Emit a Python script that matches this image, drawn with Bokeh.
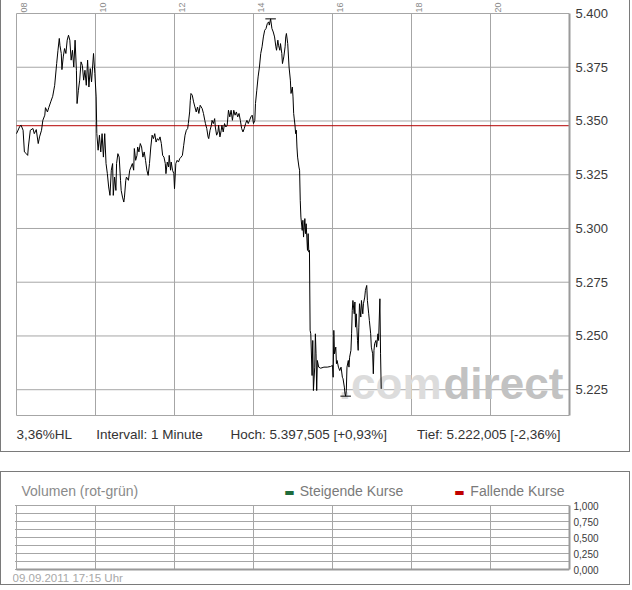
import math
from bokeh.plotting import figure
from bokeh.models import LinearAxis, FixedTicker, Range1d, Spacer
from bokeh.layouts import column
from bokeh.core.properties import value
from bokeh.embed import file_html
from bokeh.resources import INLINE

# ---------------- data (1-minute intraday) ----------------
times_0800 = ["08:00","08:05","08:07","08:10","08:12","08:15","08:17","08:18","08:21","08:25",
              "08:27","08:30","08:33","08:35","08:38","08:40","08:43","08:44","08:47","08:49",
              "08:52","08:55","08:58","09:01","09:03","09:05","09:06","09:08","09:09","09:11",
              "09:13","09:15","09:17","09:19","09:21","09:23","09:25","09:27","09:29","09:31",
              "09:32","09:34","09:36","09:38","09:40","09:42","09:44","09:46","09:48","09:50",
              "09:52","09:54","09:57","09:59"]
prices_0800 = [5.3441,5.3475,5.3480,5.3457,5.3356,5.3348,5.3340,5.3379,5.3457,5.3465,
               5.3441,5.3460,5.3395,5.3426,5.3457,5.3503,5.3527,5.3562,5.3542,5.3562,
               5.3589,5.3615,5.3666,5.3767,5.3829,5.3884,5.3852,5.3814,5.3739,5.3798,
               5.3837,5.3814,5.3876,5.3899,5.3876,5.3783,5.3829,5.3751,5.3876,5.3736,
               5.3581,5.3643,5.3690,5.3775,5.3759,5.3690,5.3736,5.3666,5.3783,5.3658,
               5.3744,5.3682,5.3814,5.3721]

times_1000 = ["10:01","10:02","10:04","10:06","10:08","10:10","10:12","10:14","10:16","10:18",
              "10:20","10:22","10:24","10:26","10:27","10:29","10:31","10:32","10:34","10:36",
              "10:38","10:39","10:41","10:43","10:44","10:46","10:47","10:50","10:52","10:54",
              "10:56","10:58","10:59","11:01","11:03","11:04","11:06","11:08","11:10","11:12",
              "11:14","11:16","11:18","11:20","11:22","11:24","11:26","11:28","11:30","11:32",
              "11:34","11:36","11:38","11:40","11:42","11:44","11:46","11:47","11:49","11:51",
              "11:52","11:54","11:55","11:57","11:59"]
prices_1000 = [5.3612,5.3441,5.3364,5.3434,5.3356,5.3441,5.3332,5.3441,5.3302,5.3255,
               5.3193,5.3154,5.3271,5.3302,5.3154,5.3239,5.3177,5.3302,5.3348,5.3332,
               5.3224,5.3177,5.3146,5.3123,5.3146,5.3224,5.3239,5.3224,5.3271,5.3286,
               5.3302,5.3271,5.3372,5.3317,5.3340,5.3379,5.3356,5.3395,5.3379,5.3332,
               5.3356,5.3317,5.3271,5.3247,5.3302,5.3379,5.3434,5.3418,5.3441,5.3402,
               5.3418,5.3410,5.3426,5.3395,5.3340,5.3332,5.3302,5.3255,5.3309,5.3286,
               5.3340,5.3271,5.3309,5.3271,5.3255]

times_1200 = ["12:00","12:02","12:04","12:06","12:08","12:10","12:12","12:14","12:16","12:18",
              "12:20","12:21","12:23","12:24","12:25","12:27","12:29","12:31","12:33","12:35",
              "12:37","12:39","12:42","12:44","12:46","12:47","12:49","12:51","12:52","12:54",
              "12:56","12:57","12:59","13:01","13:02","13:04","13:06","13:07","13:09","13:11",
              "13:12","13:14","13:16","13:18","13:20","13:22","13:24","13:26","13:28","13:30",
              "13:32","13:34","13:36","13:38","13:40","13:42","13:44","13:46","13:48","13:50",
              "13:52","13:54","13:56","13:58"]
prices_1200 = [5.3185,5.3302,5.3317,5.3309,5.3325,5.3332,5.3340,5.3387,5.3434,5.3457,
               5.3465,5.3488,5.3542,5.3596,5.3628,5.3620,5.3589,5.3565,5.3542,5.3565,
               5.3535,5.3573,5.3558,5.3535,5.3503,5.3488,5.3465,5.3426,5.3418,5.3457,
               5.3480,5.3503,5.3488,5.3511,5.3472,5.3434,5.3449,5.3480,5.3426,5.3457,
               5.3480,5.3449,5.3488,5.3472,5.3480,5.3550,5.3519,5.3550,5.3503,5.3550,
               5.3527,5.3542,5.3519,5.3535,5.3503,5.3465,5.3449,5.3465,5.3488,5.3503,
               5.3488,5.3503,5.3519,5.3527]

times_1400 = ["14:00","14:02","14:03","14:05","14:07","14:09","14:11","14:13","14:15","14:17",
              "14:19","14:21","14:23","14:24","14:26","14:28","14:30","14:32","14:34","14:35",
              "14:37","14:38","14:40","14:41","14:43","14:44","14:46","14:48","14:49","14:50",
              "14:52","14:54","14:56","14:57","14:59","15:00","15:01","15:03","15:04","15:05",
              "15:06","15:07","15:09","15:10","15:11","15:12","15:14","15:15","15:16","15:18",
              "15:19","15:20","15:22","15:23","15:24","15:25","15:26","15:27","15:29"]
prices_1400 = [5.3488,5.3503,5.3581,5.3643,5.3705,5.3751,5.3814,5.3845,5.3891,5.3922,
               5.3930,5.3953,5.3961,5.3946,5.3975,5.3930,5.3914,5.3891,5.3845,5.3829,
               5.3876,5.3852,5.3829,5.3860,5.3814,5.3767,5.3798,5.3845,5.3891,5.3907,
               5.3860,5.3751,5.3690,5.3628,5.3658,5.3612,5.3535,5.3480,5.3441,5.3457,
               5.3379,5.3332,5.3286,5.3271,5.3131,5.3053,5.2991,5.3038,5.2960,5.3046,
               5.2976,5.3022,5.2898,5.2976,5.2890,5.2898,5.2526,5.2510,5.2316]

times_1530 = ["15:30","15:31","15:33","15:34","15:35","15:36","15:37","15:39","15:42","15:47",
              "15:52","15:57","16:00","16:01","16:02","16:03","16:05","16:06","16:07","16:09",
              "16:11","16:13","16:15","16:16","16:18","16:19","16:20","16:21","16:22","16:24",
              "16:25","16:26","16:28","16:29","16:30","16:31","16:33","16:34","16:35","16:36",
              "16:38","16:39","16:40","16:41","16:43","16:44","16:46","16:47","16:49","16:50",
              "16:52","16:53","16:55","16:56","16:58","16:59","17:01","17:02","17:03","17:04",
              "17:06","17:07","17:09","17:10","17:12","17:13","17:14"]
prices_1530 = [5.2479,5.2246,5.2355,5.2510,5.2417,5.2246,5.2386,5.2355,5.2350,5.2355,
               5.2355,5.2358,5.2363,5.2308,5.2526,5.2417,5.2448,5.2371,5.2386,5.2355,
               5.2339,5.2355,5.2308,5.2301,5.2262,5.2231,5.2220,5.2246,5.2355,5.2386,
               5.2355,5.2401,5.2433,5.2510,5.2619,5.2665,5.2603,5.2658,5.2541,5.2603,
               5.2479,5.2433,5.2541,5.2650,5.2588,5.2665,5.2603,5.2650,5.2681,5.2712,
               5.2735,5.2665,5.2603,5.2572,5.2510,5.2448,5.2417,5.2324,5.2433,5.2464,
               5.2479,5.2448,5.2510,5.2479,5.2673,5.2417,5.2254]

prev_close = 5.3478

hour_ticks = [8, 10, 12, 14, 16, 18, 20]
hour_labels = ["08", "10", "12", "14", "16", "18", "20"]
price_ticks = [5.225, 5.25, 5.275, 5.3, 5.325, 5.35, 5.375, 5.4]
price_labels = ["5.225", "5.250", "5.275", "5.300", "5.325", "5.350", "5.375", "5.400"]
vol_ticks = [0.0, 0.25, 0.5, 0.75, 1.0]
vol_labels = ["0,000", "0,250", "0,500", "0,750", "1,000"]
vol_grid = [0.0, 0.125, 0.25, 0.375, 0.5, 0.625, 0.75, 0.875, 1.0]

info_texts = ["3,36%HL", "Intervall: 1 Minute", "Hoch: 5.397,505 [+0,93%]", "Tief: 5.222,005 [-2,36%]"]
info_x = [8.0, 10.02, 13.42, 18.14]
legend_texts = ["Steigende Kurse", "Fallende Kurse"]
legend_colors = ["#1e6b3c", "#c00000"]

# ---------------- helpers ----------------
def to_hours(t):
    h, m = t.split(":")
    return int(h) + int(m) / 60.0

times = times_0800 + times_1000 + times_1200 + times_1400 + times_1530
prices = prices_0800 + prices_1000 + prices_1200 + prices_1400 + prices_1530
hours = [to_hours(t) for t in times]

FONT = "Liberation Sans"
GRID = "#a6a6a6"
AXIS = "#9a9a9a"
BORDER = "#7a7a7a"

X0, X1 = 8.0, 22.0
W = 630
PAD_L, PAD_R = 15, 62
PPX = (W - PAD_L - PAD_R) / (X1 - X0)          # pixels per hour
LEFT_EXTRA = 4                                  # frame starts 4 px left of the 08:00 grid line
XR = Range1d(X0 - LEFT_EXTRA / PPX, X1)


def make_fig(height, yr, styles):
    f = figure(width=W, height=height, x_range=Range1d(XR.start, XR.end), y_range=yr,
               x_axis_location=None, y_axis_location=None, toolbar_location=None,
               output_backend="svg", min_border_left=PAD_L - LEFT_EXTRA,
               min_border_right=PAD_R, min_border_top=0, min_border_bottom=0,
               outline_line_color=None, background_fill_color="white",
               border_fill_color="white", styles=styles)
    f.xgrid.visible = False
    f.ygrid.visible = False
    return f


def right_axis(ticks, labels, bounds, size, standoff):
    return LinearAxis(ticker=FixedTicker(ticks=ticks), bounds=bounds,
                      major_label_overrides={t: l for t, l in zip(ticks, labels)},
                      axis_line_color=AXIS, axis_line_width=2, major_tick_line_color=None,
                      major_tick_out=0, major_tick_in=0, minor_tick_line_color=None,
                      minor_tick_out=0, minor_tick_in=0, major_label_standoff=standoff,
                      major_label_text_font=FONT, major_label_text_font_size=size,
                      major_label_text_color="#3a3a3a")

# ---------------- price panel ----------------
H1 = 452
TOP1, BOT1 = 13, 37                            # pixel margins around the data area
Y0, Y1 = 5.213, 5.400
PPY1 = (H1 - TOP1 - BOT1) / (Y1 - Y0)

top = make_fig(H1, Range1d(Y0 - BOT1 / PPY1, Y1 + TOP1 / PPY1),
               {"border-left": f"1px solid {BORDER}", "border-right": f"1px solid {BORDER}",
                "border-bottom": f"1px solid {BORDER}"})

top.segment(x0=hour_ticks, y0=[Y0] * len(hour_ticks), x1=hour_ticks, y1=[Y1] * len(hour_ticks),
            line_color=GRID, line_width=1)
top.segment(x0=[X0] * (len(price_ticks) + 1), y0=price_ticks + [Y0],
            x1=[X1] * (len(price_ticks) + 1), y1=price_ticks + [Y0],
            line_color=GRID, line_width=1)
top.add_layout(right_axis(price_ticks, price_labels, (Y0, Y1), "13px", 6), "right")

# watermark (anchor = vertical middle of the text box, 370 px below the data top)
WM_Y = Y1 - 370 / PPY1
top.text(x=[18.76], y=[WM_Y], text=[".com"], text_align="right", text_baseline="middle",
         text_font=value(FONT), text_font_size="44px", text_font_style="bold",
         text_color="#dcdcdc")
top.text(x=[18.81], y=[WM_Y], text=["direct"], text_align="left", text_baseline="middle",
         text_font=value(FONT), text_font_size="44px", text_font_style="bold",
         text_color="#c2c2c2")

# previous close
top.segment(x0=[X0], y0=[prev_close], x1=[X1], y1=[prev_close], line_color="#b40000",
            line_width=1)

top.line(hours, prices, line_color="black", line_width=1)

hi = prices.index(max(prices))
lo = prices.index(min(prices))
half = 8 / 60.0
top.segment(x0=[hours[hi] - half, hours[lo] - half], y0=[prices[hi], prices[lo]],
            x1=[hours[hi] + half, hours[lo] + half], y1=[prices[hi], prices[lo]],
            line_color="black", line_width=1)

# rotated hour labels above the data area
top.text(x=[h + 7 / PPX for h in hour_ticks], y=[Y1 + 1 / PPY1] * len(hour_ticks),
         text=hour_labels, angle=math.pi / 2, text_align="left", text_baseline="middle",
         text_font=value(FONT), text_font_size="9px", text_color="#8a8a8a")

# info line below the data area
top.text(x=info_x, y=[Y0 - 19.3 / PPY1] * len(info_x), text=info_texts,
         text_align="left", text_baseline="middle", text_font=value(FONT),
         text_font_size="13.5px", text_color="#333333")

# ---------------- volume panel ----------------
H2 = 114
TOP2, BOT2 = 33, 17
PPY2 = (H2 - TOP2 - BOT2) / 1.0

bot = make_fig(H2, Range1d(0 - BOT2 / PPY2, 1 + TOP2 / PPY2),
               {"border": f"1px solid {BORDER}"})

bot.segment(x0=hour_ticks, y0=[0] * len(hour_ticks), x1=hour_ticks, y1=[1] * len(hour_ticks),
            line_color=GRID, line_width=1)
bot.segment(x0=[X0 - 1.5 / PPX] * len(vol_grid), y0=vol_grid, x1=[X1] * len(vol_grid),
            y1=vol_grid, line_color=GRID, line_width=1)
bot.segment(x0=[X0], y0=[0], x1=[X1], y1=[0], line_color=AXIS, line_width=2)
bot.add_layout(right_axis(vol_ticks, vol_labels, (0, 1), "10px", 4), "right")

bot.text(x=[X0 + 5 / PPX], y=[1 + 15 / PPY2], text=["Volumen (rot-grün)"],
         text_baseline="middle", text_font=value(FONT), text_font_size="14px",
         text_color="#8a8a8a")
bot.text(x=[14.91, 19.215], y=[1 + 13 / PPY2] * 2, text=["\u25ac", "\u25ac"],
         text_align="center", text_baseline="middle", text_font=value("DejaVu Sans"),
         text_font_size="11px", text_color=legend_colors)
bot.text(x=[15.17, 19.49], y=[1 + 15 / PPY2] * 2, text=legend_texts,
         text_baseline="middle", text_font=value(FONT), text_font_size="14px",
         text_color="#7a7a7a")
bot.text(x=[X0 - LEFT_EXTRA / PPX], y=[0 - 8.5 / PPY2], text=["09.09.2011 17:15 Uhr"],
         text_baseline="middle", text_font=value(FONT), text_font_size="11.5px",
         text_color="#a8a8a8")

layout = column(top, Spacer(width=632, height=19), bot)

with open("out.html", "w", encoding="utf-8") as f:
    f.write(file_html(layout, INLINE))
